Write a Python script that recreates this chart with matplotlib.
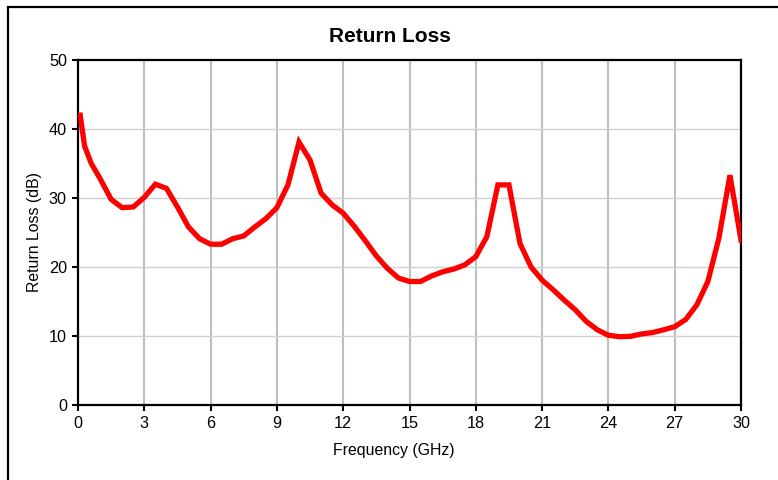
"""
Return loss chart (Excel style).
"""

import matplotlib
matplotlib.use("Agg")
import matplotlib.pyplot as plt
from matplotlib.patches import Rectangle

plt.rcParams["font.family"] = ["Liberation Sans", "DejaVu Sans"]

# Frequency points (GHz) and return loss (dB)
freq_ghz = [0.1, 0.3, 0.6, 1.0, 1.5, 2.0, 2.5, 3.0, 3.5, 4.0, 4.5, 5.0, 5.5,
            6.0, 6.5, 7.0, 7.5, 8.0, 8.5, 9.0, 9.5, 10.0, 10.5, 11.0, 11.5,
            12.0, 12.5, 13.0, 13.5, 14.0, 14.5, 15.0, 15.5, 16.0, 16.5, 17.0,
            17.5, 18.0, 18.5, 19.0, 19.5, 20.0, 20.5, 21.0, 21.5, 22.0, 22.5,
            23.0, 23.5, 24.0, 24.5, 25.0, 25.5, 26.0, 26.5, 27.0, 27.5, 28.0,
            28.5, 29.0, 29.5, 30.0]
return_loss_db = [42.0, 37.5, 35.0, 32.8, 29.8, 28.6, 28.7, 30.1, 32.0, 31.4,
                  28.7, 25.8, 24.1, 23.3, 23.3, 24.1, 24.5, 25.8, 27.0, 28.6,
                  31.9, 38.1, 35.5, 30.7, 29.0, 27.8, 25.9, 23.8, 21.6, 19.8,
                  18.4, 17.9, 17.9, 18.7, 19.3, 19.7, 20.3, 21.5, 24.4, 31.9,
                  31.9, 23.4, 20.0, 18.1, 16.7, 15.2, 13.8, 12.1, 10.9, 10.1,
                  9.9, 9.95, 10.3, 10.5, 10.9, 11.35, 12.4, 14.5, 17.9, 24.2,
                  33.3, 23.9]

x_ticks = list(range(0, 31, 3))
y_ticks = list(range(0, 51, 10))

fig = plt.figure(figsize=(7.78, 4.8), dpi=100)
ax = fig.add_axes([78 / 778, 1 - 405 / 480, (741 - 78) / 778, (405 - 60) / 480])

# outer chart border (cut off at right and bottom like the reference)
fig.patches.append(Rectangle((8 / 778, -0.5), 2.0, 0.5 + 1 - 7 / 480,
                             transform=fig.transFigure, fill=False,
                             edgecolor="black", lw=1.6))

for x in x_ticks[1:-1]:
    ax.axvline(x, color="#c0c0c0", lw=1.5, zorder=1)
for y in y_ticks[1:-1]:
    ax.axhline(y, color="#d0d0d0", lw=1.0, zorder=1)

ax.plot(freq_ghz, return_loss_db, color="#ff0000", lw=3.8,
        solid_joinstyle="miter", zorder=3)

ax.set_xlim(0, 30)
ax.set_ylim(0, 50)
ax.set_xticks(x_ticks)
ax.set_yticks(y_ticks)
for s in ax.spines.values():
    s.set_linewidth(1.6)
ax.tick_params(direction="out", length=4, width=1.5, labelsize=11.7, pad=4)

fig.text(390 / 778, 1 - 37 / 480, "Return Loss", fontsize=15,
         fontweight="bold", ha="center", va="center")
fig.text(394 / 778, 1 - 450 / 480, "Frequency (GHz)", fontsize=11.4,
         ha="center", va="center")
ax.set_ylabel("Return Loss (dB)", fontsize=11.4, labelpad=5)

fig.savefig("out.png", dpi=100)
